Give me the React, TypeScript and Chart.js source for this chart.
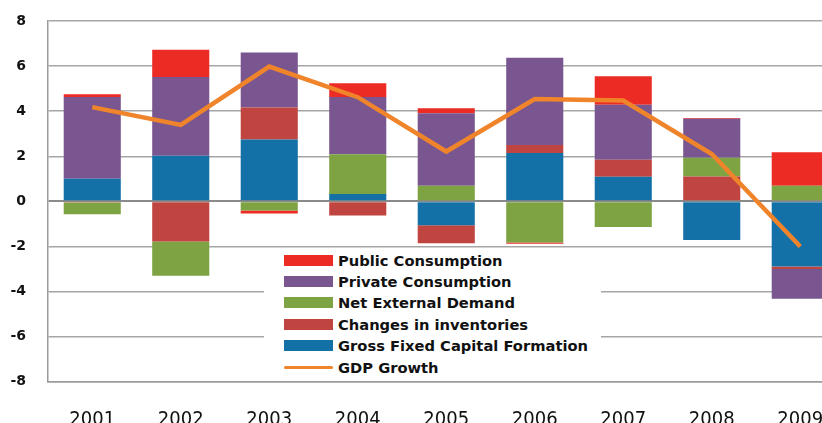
import React, { useEffect, useRef } from "react";
import { Chart, registerables } from "chart.js";

Chart.register(...registerables);

const years = ["2001", "2002", "2003", "2004", "2005", "2006", "2007", "2008", "2009"];
const gfcf = [1.0, 2.02, 2.74, 0.33, -1.06, 2.15, 1.09, -1.71, -2.89];
const inventories = [-0.05, -1.78, 1.42, -0.63, -0.8, 0.35, 0.76, 1.1, -0.11];
const netExternal = [-0.52, -1.52, -0.41, 1.76, 0.69, -1.83, -1.14, 0.83, 0.69];
const privateCons = [3.63, 3.5, 2.44, 2.54, 3.22, 3.87, 2.43, 1.73, -1.32];
const publicCons = [0.12, 1.2, -0.13, 0.61, 0.22, -0.05, 1.27, 0.04, 1.49];
const gdp = [4.18, 3.39, 5.98, 4.62, 2.21, 4.54, 4.47, 2.1, -2.0];

const COLORS = {
  public: "#ED2B25",
  private: "#795690",
  net: "#7EA343",
  inv: "#C0443F",
  gfcf: "#1371A8",
  gdp: "#F0842B",
};

const legendItems = [
  { label: "Public Consumption", color: COLORS.public, line: false },
  { label: "Private Consumption", color: COLORS.private, line: false },
  { label: "Net External Demand", color: COLORS.net, line: false },
  { label: "Changes in inventories", color: COLORS.inv, line: false },
  { label: "Gross Fixed Capital Formation", color: COLORS.gfcf, line: false },
  { label: "GDP Growth", color: COLORS.gdp, line: true },
];

const FONT = "'DejaVu Sans', sans-serif";
const XFONT = "'Liberation Sans Narrow', 'DejaVu Sans Condensed', sans-serif";

export default function App() {
  const ref = useRef<HTMLCanvasElement | null>(null);

  useEffect(() => {
    if (!ref.current) return;
    const bar = (label: string, data: number[], color: string) => ({
      type: "bar" as const,
      label,
      data,
      backgroundColor: color,
      borderWidth: 0,
      stack: "s",
      order: 1,
      barPercentage: 0.645,
      categoryPercentage: 1,
    });
    const chart = new Chart(ref.current, {
      type: "bar",
      data: {
        labels: years,
        datasets: [
          {
            type: "line" as const,
            label: "GDP Growth",
            data: gdp,
            borderColor: COLORS.gdp,
            backgroundColor: COLORS.gdp,
            borderWidth: 4.5,
            pointRadius: 0,
            tension: 0,
            stack: "line",
            order: 0,
          } as any,
          bar("Gross Fixed Capital Formation", gfcf, COLORS.gfcf),
          bar("Changes in inventories", inventories, COLORS.inv),
          bar("Net External Demand", netExternal, COLORS.net),
          bar("Private Consumption", privateCons, COLORS.private),
          bar("Public Consumption", publicCons, COLORS.public),
        ],
      },
      options: {
        responsive: false,
        animation: false,
        layout: { padding: { top: 21, right: 5.5, bottom: 0, left: 0 } },
        plugins: { legend: { display: false }, tooltip: { enabled: false } },
        scales: {
          x: {
            stacked: true,
            grid: { display: false },
            border: { display: true, color: "#9a9a9a", width: 1.5 },
            ticks: {
              color: "#111",
              font: { family: XFONT, size: 20, weight: "normal" },
              padding: 18,
            },
            afterFit: (s: any) => {
              s.height = 58.3;
            },
          },
          y: {
            stacked: true,
            min: -8,
            max: 8,
            ticks: {
              stepSize: 2,
              color: "#111",
              font: { family: FONT, size: 14, weight: "bold" },
              padding: 22,
            },
            grid: {
              drawTicks: false,
              color: (c: any) => (c.tick && c.tick.value === 0 ? "#8a8a8a" : "#a6a6a6"),
              lineWidth: (c: any) => (c.tick && c.tick.value === 0 ? 2 : 1.5),
            },
            border: { display: true, color: "#9a9a9a", width: 1.5 },
            afterFit: (s: any) => {
              s.width = 48;
              s.paddingTop = 0;
              s.paddingBottom = 0;
            },
          },
        },
      },
    });
    return () => chart.destroy();
  }, []);

  return (
    <div
      style={{
        position: "absolute",
        left: 0,
        top: 0,
        width: 822,
        height: 423,
        overflow: "hidden",
        background: "#fff",
      }}
    >
      <div style={{ position: "relative", width: 850, height: 440 }}>
        <canvas ref={ref} width={850} height={440} style={{ width: 850, height: 440, display: "block" }} />
        <div
          style={{
            position: "absolute",
            left: 264,
            top: 248,
            width: 337,
            height: 132,
            background: "#fff",
            fontFamily: FONT,
            fontWeight: 700,
            fontSize: 14.7,
            color: "#111",
          }}
        >
          {legendItems.map((it, i) => (
            <div
              key={it.label}
              style={{
                position: "absolute",
                left: 0,
                top: 1.5 + i * 21.4,
                height: 21,
                display: "flex",
                alignItems: "center",
                whiteSpace: "nowrap",
              }}
            >
              <span
                style={{
                  display: "inline-block",
                  marginLeft: 20,
                  width: 49,
                  height: it.line ? 3 : 11,
                  background: it.color,
                  borderRadius: it.line ? 2 : 0,
                }}
              />
              <span style={{ marginLeft: 5 }}>{it.label}</span>
            </div>
          ))}
        </div>
      </div>
    </div>
  );
}
